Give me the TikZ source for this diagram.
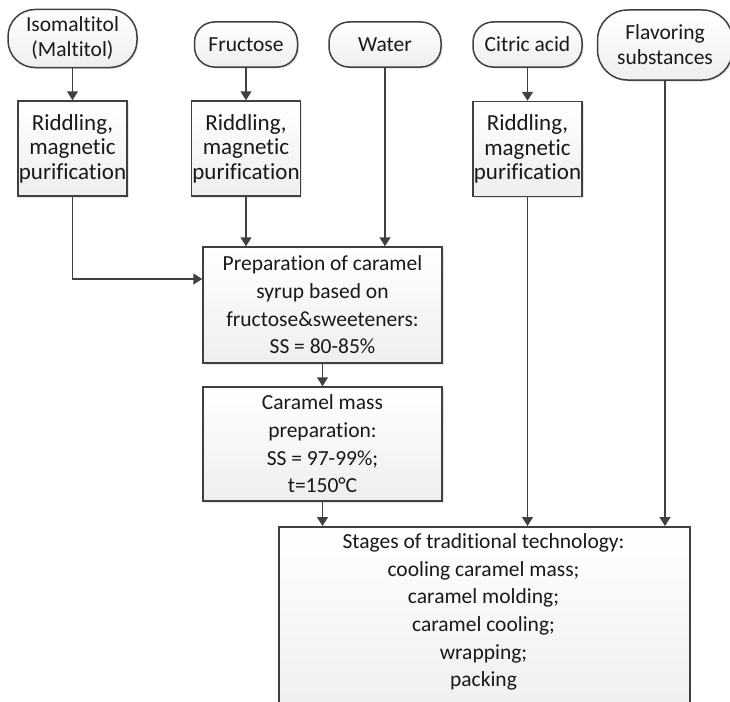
\documentclass[tikz,border=0pt]{standalone}
\usepackage{fontspec}
\setmainfont{Carlito}[Ligatures={NoCommon}]
\usetikzlibrary{arrows.meta,shadows}
\definecolor{edge}{HTML}{404040}
\tikzset{
  x=1pt,y=1pt,
  base/.style={draw=edge, line width=1.5pt, top color=white, bottom color=gray!13,
    align=center, inner sep=1pt, font=\fontsize{21.5}{27.7}\selectfont, text=black!90,
    drop shadow={shadow xshift=1.5pt, shadow yshift=-1.5pt, fill=gray!35, opacity=0.6}},
  term/.style={base, rounded corners=20pt, font=\fontsize{21.5}{25}\selectfont},
  procbox/.style={base},
  ridbox/.style={base, font=\fontsize{23}{24.5}\selectfont},
  flow/.style={draw=edge, line width=1.5pt, -{Triangle[width=11pt,length=9pt]}},
}
\begin{document}
\begin{tikzpicture}
\useasboundingbox (0,0) rectangle (730,-701);
% terminals
\node[term, rounded corners=27pt, minimum width=129, minimum height=58] (iso) at (72.5,-38.5) {Isomaltitol\\(Maltitol)};
\node[term, minimum width=103, minimum height=45] (fru) at (246,-44.5) {Fructose};
\node[term, minimum width=112, minimum height=45] (wat) at (385,-44.5) {Water};
\node[term, minimum width=109, minimum height=45] (cit) at (527.5,-44.5) {Citric acid};
\node[term, rounded corners=30pt, minimum width=135, minimum height=70] (fla) at (665,-45) {Flavoring\\substances};
% riddling
\node[ridbox, minimum width=109, minimum height=95] (r1) at (72.5,-148.5) {Riddling,\\magnetic\\purification};
\node[ridbox, minimum width=109, minimum height=95] (r2) at (246,-148.5) {Riddling,\\magnetic\\purification};
\node[ridbox, minimum width=107, minimum height=95] (r3) at (527.5,-149) {Riddling,\\magnetic\\purification};
% process
\node[procbox, minimum width=239, minimum height=116] (prep) at (322.5,-305) {Preparation of caramel\\syrup based on\\fructose\&sweeteners:\\SS = 80-85\%};
\node[procbox, minimum width=239, minimum height=114] (cm) at (322.5,-444) {Caramel mass\\preparation:\\SS = 97-99\%;\\t=150°C};
\node[procbox, minimum width=411, minimum height=190, anchor=north west] (st) at (278,-526) {};
\node[align=center, font=\fontsize{21.5}{27.7}\selectfont, text=black!90, anchor=north] (stt) at (483.5,-530) {Stages of traditional technology:\\cooling caramel mass;\\caramel molding;\\caramel cooling;\\wrapping;\\packing};
% connectors
\draw[flow] (iso) -- (r1);
\draw[flow] (fru) -- (r2);
\draw[flow] (cit) -- (r3);
\draw[flow] (r1.south) |- (prep.west |- 0,-279);
\draw[flow] (r2.south) -- (r2.south |- prep.north);
\draw[flow] (wat.south) -- (wat.south |- prep.north);
\draw[flow] (prep) -- (cm);
\draw[flow] (cm.south) -- (cm.south |- st.north);
\draw[flow] (r3.south) -- (r3.south |- st.north);
\draw[flow] (fla.south) -- (fla.south |- st.north);
\end{tikzpicture}
\end{document}
